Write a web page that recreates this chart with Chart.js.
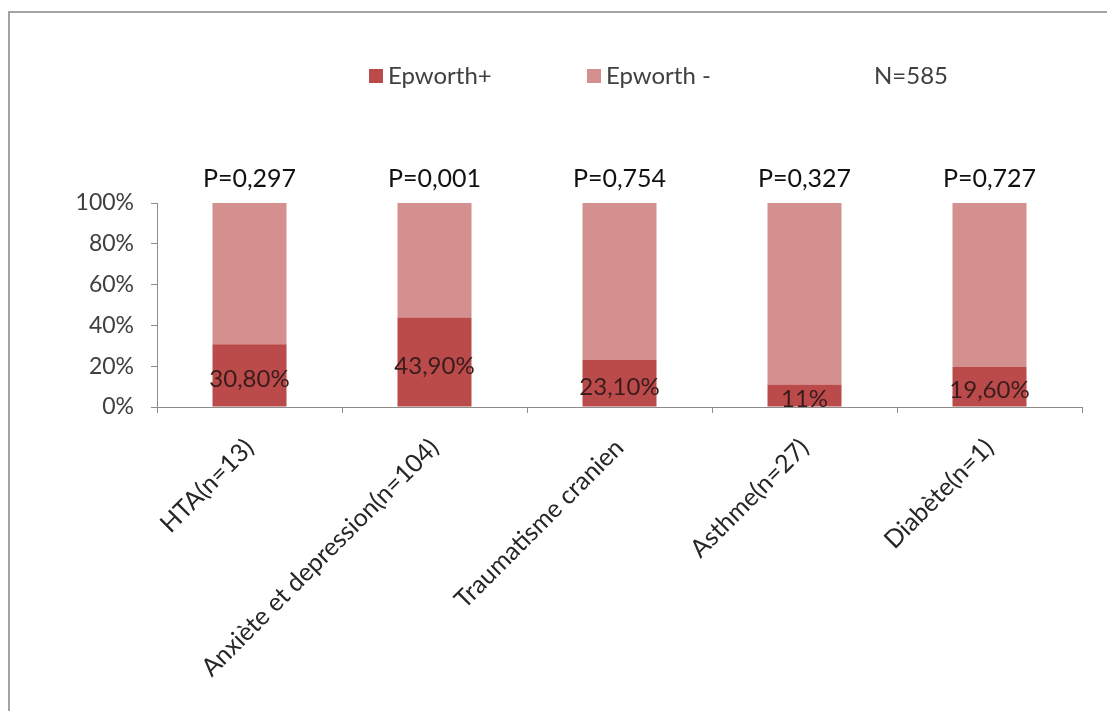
<!DOCTYPE html>
<html>
<head>
<meta charset="utf-8">
<script src="https://cdn.jsdelivr.net/npm/chart.js@4.4.1/dist/chart.umd.min.js"></script>
<style>
  html, body { margin: 0; padding: 0; background: #ffffff; }
  #wrap { width: 1107px; height: 711px; position: relative; }
</style>
</head>
<body>
<div id="wrap"><canvas id="c" width="1107" height="711"></canvas></div>
<script>
// Comorbidities and share of Epworth-positive / negative patients
const categories = [
  'HTA(n=13)',
  'Anxiète et depression(n=104)',
  'Traumatisme cranien',
  'Asthme(n=27)',
  'Diabète(n=1)'
];
const epworthPos = [30.8, 43.9, 23.1, 11, 19.6];
const epworthNeg = [69.2, 56.1, 76.9, 89, 80.4];
const posLabels = ['30,80%', '43,90%', '23,10%', '11%', '19,60%'];
const pValues = ['P=0,297', 'P=0,001', 'P=0,754', 'P=0,327', 'P=0,727'];
const seriesNames = ['Epworth+', 'Epworth -'];
const totalLabel = 'N=585';
const yTicks = [0, 20, 40, 60, 80, 100];

const FONT = 'Lato, "Liberation Sans", sans-serif';
const DARK = '#bb4a4a';
const LIGHT = '#d48f8f';
const TEXT = '#404040';

// outer frame (top and left edges)
const framePlugin = {
  id: 'frame',
  beforeDraw(chart) {
    const ctx = chart.ctx;
    ctx.save();
    ctx.strokeStyle = '#a3a3a3';
    ctx.lineWidth = 2;
    ctx.beginPath();
    ctx.moveTo(1107, 12);
    ctx.lineTo(9, 12);
    ctx.lineTo(9, 711);
    ctx.stroke();
    ctx.restore();
  }
};

// legend row with the sample size
const legendPlugin = {
  id: 'legendRow',
  afterDraw(chart) {
    const ctx = chart.ctx;
    const ds = chart.data.datasets;
    const y = 76;
    ctx.save();
    ctx.font = '24px ' + FONT;
    ctx.textBaseline = 'middle';
    ctx.textAlign = 'left';
    const items = [{ sx: 369, tx: 388 }, { sx: 587, tx: 606 }];
    items.forEach((it, i) => {
      ctx.fillStyle = ds[i].backgroundColor;
      ctx.fillRect(it.sx, y - 7, 14, 14);
      ctx.fillStyle = TEXT;
      ctx.fillText(seriesNames[i], it.tx, y);
    });
    ctx.fillText(totalLabel, 874, y);
    ctx.restore();
  }
};

// value labels inside the Epworth+ segments and p-values above each bar
const labelPlugin = {
  id: 'barLabels',
  afterDatasetsDraw(chart) {
    const ctx = chart.ctx;
    const meta0 = chart.getDatasetMeta(0);
    const area = chart.chartArea;
    ctx.save();
    ctx.textAlign = 'center';
    meta0.data.forEach((bar, i) => {
      const props = bar.getProps(['x', 'y', 'base'], true);
      ctx.font = '24px ' + FONT;
      ctx.fillStyle = '#3a1c1c';
      ctx.textBaseline = 'middle';
      ctx.fillText(posLabels[i], props.x, (props.y + props.base) / 2 + 4);
      ctx.font = '25px ' + FONT;
      ctx.fillStyle = '#111111';
      ctx.textBaseline = 'alphabetic';
      ctx.fillText(pValues[i], props.x, area.top - 16);
    });
    ctx.restore();
  }
};

new Chart(document.getElementById('c'), {
  type: 'bar',
  data: {
    labels: categories,
    datasets: [
      { label: seriesNames[0], data: epworthPos, backgroundColor: DARK, borderWidth: 0 },
      { label: seriesNames[1], data: epworthNeg, backgroundColor: LIGHT, borderWidth: 0 }
    ]
  },
  options: {
    responsive: false,
    animation: false,
    devicePixelRatio: 1,
    layout: { padding: { top: 203, left: 0, right: 25, bottom: 0 } },
    datasets: { bar: { barPercentage: 0.4, categoryPercentage: 1.0 } },
    plugins: { legend: { display: false }, tooltip: { enabled: false }, title: { display: false } },
    scales: {
      x: {
        stacked: true,
        grid: { display: true, drawOnChartArea: false, drawTicks: true, tickLength: 6, color: '#8c8c8c', offset: true },
        border: { display: true, color: '#8c8c8c', width: 1 },
        ticks: {
          color: '#262626',
          font: { family: FONT, size: 25 },
          maxRotation: 45,
          minRotation: 45,
          autoSkip: false,
          padding: 20
        },
        afterFit(scale) { scale.height = 304; }
      },
      y: {
        stacked: true,
        min: 0,
        max: 100,
        afterBuildTicks(scale) { scale.ticks = yTicks.map(v => ({ value: v })); },
        grid: { display: true, drawOnChartArea: false, drawTicks: true, tickLength: 6, color: '#8c8c8c' },
        border: { display: true, color: '#8c8c8c', width: 1 },
        ticks: {
          color: TEXT,
          font: { family: FONT, size: 23 },
          padding: 17,
          callback: v => v + '%'
        },
        afterFit(scale) { scale.width = 157; }
      }
    }
  },
  plugins: [framePlugin, legendPlugin, labelPlugin]
});
</script>
</body>
</html>
